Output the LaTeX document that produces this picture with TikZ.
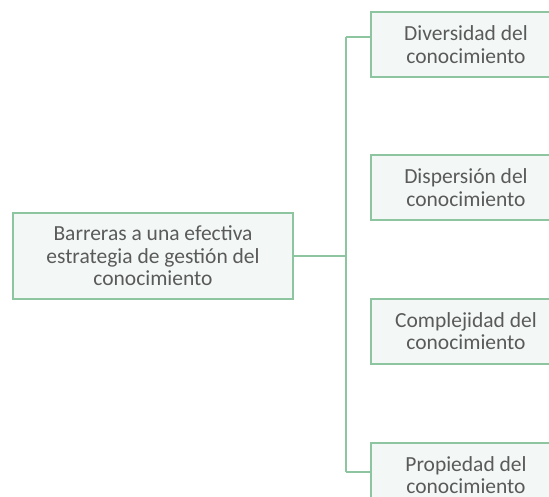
\documentclass[tikz,border=0pt]{standalone}
\usepackage{fontspec}
\setmainfont{Carlito}
\definecolor{boxfill}{HTML}{F3F8F6}
\definecolor{boxline}{HTML}{8CC5A0}
\definecolor{txt}{HTML}{5A5A5A}
\begin{document}
\begin{tikzpicture}[x=1pt,y=-1pt,
  box/.style={draw=boxline,fill=boxfill,line width=2pt,text=txt,align=center,
    font=\fontsize{21.5}{22.4}\selectfont,inner sep=0pt},
  conn/.style={draw=boxline,line width=2pt}]
\useasboundingbox (0,0) rectangle (549,497);
\clip (0,0) rectangle (549,497);
\node[box,minimum width=280,minimum height=86] (L) at (153,256) {Barreras a una efectiva\\estrategia de gestión del\\conocimiento};
\node[box,minimum width=190,minimum height=65] (A) at (466,44.5) {Diversidad del\\conocimiento};
\node[box,minimum width=190,minimum height=65] (B) at (466,187.5) {Dispersión del\\conocimiento};
\node[box,minimum width=190,minimum height=65] (C) at (466,331) {Complejidad del\\conocimiento};
\node[box,minimum width=190,minimum height=65] (D) at (466,475) {Propiedad del\\conocimiento};
\coordinate (j) at (346,256);
\coordinate (ta) at (346,37);
\coordinate (tb) at (346,472);
\draw[conn] (L.east) -- (j);
\draw[conn] (ta) -- (tb);
\draw[conn] (ta) -- (ta -| A.west);
\draw[conn] (tb) -- (tb -| D.west);
\end{tikzpicture}
\end{document}
